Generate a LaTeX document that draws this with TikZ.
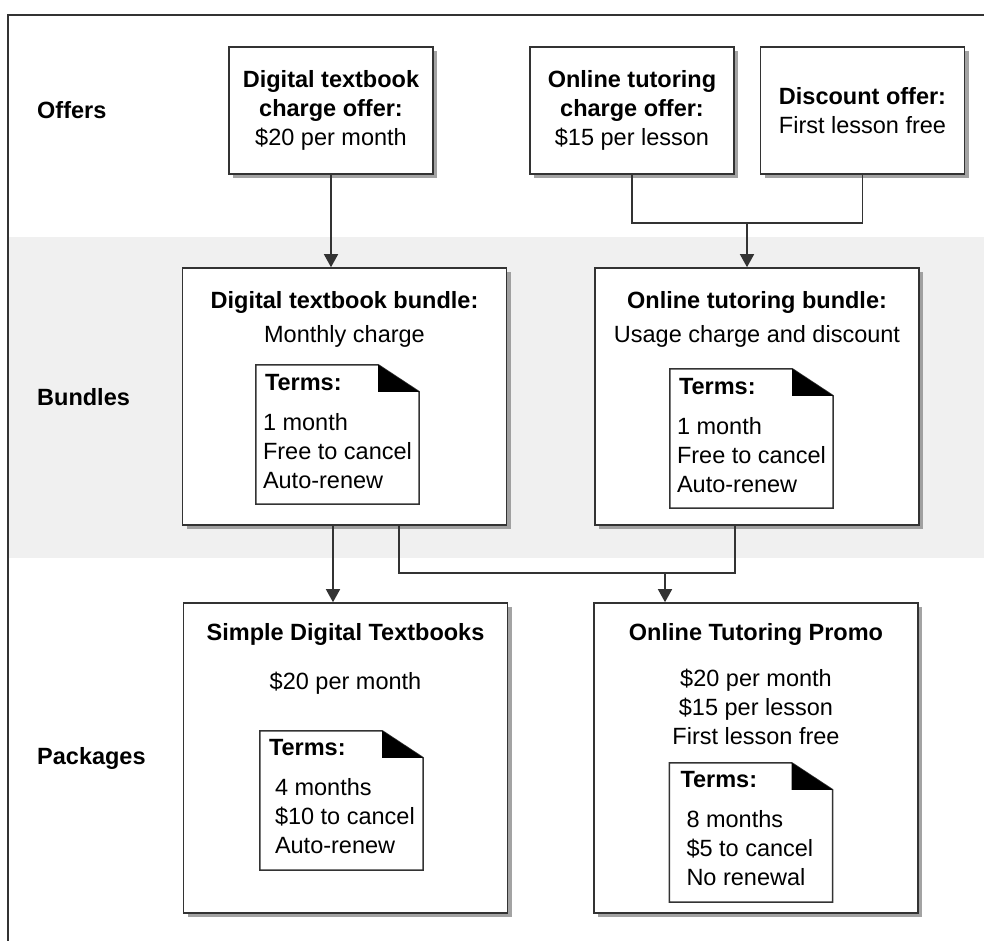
\documentclass[tikz,border=0pt]{standalone}
\usepackage{fontspec}
\setmainfont{Liberation Sans}
\usepackage{tikz}
\usetikzlibrary{positioning}
\usetikzlibrary{arrows.meta,calc,shadows}
\newcommand*{\dgfont}{\fontsize{23.5}{29}\selectfont}
\newcommand*{\termsdoc}[1]{%
  \draw[docline] (#1.north west) -- ([xshift=-41pt]#1.north east) -- ([yshift=-27pt]#1.north east) -- (#1.south east) -- (#1.south west) -- cycle;
  \fill ([xshift=-41pt]#1.north east) -- ([xshift=-41pt,yshift=-27pt]#1.north east) -- ([yshift=-27pt]#1.north east) -- cycle;}

\begin{document}
\begin{tikzpicture}[x=1pt,y=-1pt,
    every node/.style={font=\dgfont,inner sep=0pt},
    frame/.style={draw=black!80,line width=1.6pt,fill=white,
      drop shadow={shadow xshift=4pt,shadow yshift=-4pt,fill=black!45,opacity=.8}},
    offer/.style={frame,minimum width=204pt,minimum height=127pt,align=center},
    bundle/.style={frame,minimum width=324pt,minimum height=257pt},
    package/.style={frame,minimum width=324pt,minimum height=310pt},
    doc/.style={minimum width=163pt,minimum height=139pt},
    docline/.style={draw=black!80,line width=1.5pt,fill=white},
    wire/.style={draw=black!80,line width=1.5pt},
    arr/.style={wire,-{Triangle[length=13pt,width=14pt]}},
    lbl/.style={font=\dgfont\bfseries,anchor=west}]
	\useasboundingbox (0,0) rectangle (984,941);
	\fill[black!6] (9,237) rectangle (984,558);
	\draw[wire] (8,941) -- (8,15) -- (984,15);
	% row labels
	\node[lbl] (lof) at (37,110) {Offers};
	\node[lbl] (lbn) at (37,397) {Bundles};
	\node[lbl] (lpk) at (37,758) {Packages};
	% offers
	\node[offer] (ofdig) at (331,110.5) {\textbf{Digital textbook}\\\textbf{charge offer:}\\\$20 per month};
	\node[offer] (oftut) at (632,110.5) {\textbf{Online tutoring}\\\textbf{charge offer:}\\\$15 per lesson};
	\node[offer] (ofdisc) at (862.5,110.5) {\textbf{Discount offer:}\\First lesson free};
	% bundles
	\node[bundle] (bndig) at (344.5,396.5) {};
	\node[bundle] (bntut) at (757,396.5) {};
	\node (bndigt) at (344.5,302) {\textbf{Digital textbook bundle:}};
	\node (bndigs) at (344.5,336) {Monthly charge};
	\node (bntutt) at (757,302) {\textbf{Online tutoring bundle:}};
	\node (bntuts) at (757,336) {Usage charge and discount};
	\node[doc] (tdig) at (337.5,434.5) {};\termsdoc{tdig}
	\node[anchor=west] (tdigh) at ($(tdig.north west)+(9,18)$) {\textbf{Terms:}};
	\node[anchor=west,align=left] (tdigl) at ($(tdig.north west)+(7,86)$) {1 month\\Free to cancel\\Auto-renew};
	\node[doc] (ttut) at (751.5,438.5) {};\termsdoc{ttut}
	\node[anchor=west] (ttuth) at ($(ttut.north west)+(9,18)$) {\textbf{Terms:}};
	\node[anchor=west,align=left] (ttutl) at ($(ttut.north west)+(7,86)$) {1 month\\Free to cancel\\Auto-renew};
	% packages
	\node[package] (pkdig) at (345.5,758) {};
	\node[package] (pkprm) at (756,758) {};
	\node (pkdigt) at (345.5,634) {\textbf{Simple Digital Textbooks}};
	\node (pkdigs) at (345.5,683) {\$20 per month};
	\node (pkprmt) at (756,634) {\textbf{Online Tutoring Promo}};
	\node[align=center] (pkprms) at (756,706.5) {\$20 per month\\\$15 per lesson\\First lesson free};
	\node[doc] (tpkd) at (341.5,800.5) {};\termsdoc{tpkd}
	\node[anchor=west] (tpkdh) at ($(tpkd.north west)+(9,17)$) {\textbf{Terms:}};
	\node[anchor=west,align=left] (tpkdl) at ($(tpkd.north west)+(15,85)$) {4 months\\\$10 to cancel\\Auto-renew};
	\node[doc] (tprm) at (751,832.5) {};\termsdoc{tprm}
	\node[anchor=west] (tprmh) at ($(tprm.north west)+(11,17)$) {\textbf{Terms:}};
	\node[anchor=west,align=left] (tprml) at ($(tprm.north west)+(17,85)$) {8 months\\\$5 to cancel\\No renewal};
	% connectors
	\coordinate (jtop) at (747,223);
	\coordinate (jbot) at (665,573);
	\draw[arr] (ofdig.south) -- (ofdig.south |- bndig.north);
	\draw[wire] (oftut.south) |- (jtop) -| (ofdisc.south);
	\draw[arr] (jtop) -- (jtop |- bntut.north);
	\draw[arr] ([xshift=-11.5pt]bndig.south) -- ([xshift=-11.5pt]bndig.south |- pkdig.north);
	\draw[wire] ([xshift=54.5pt]bndig.south) |- (jbot) -| ([xshift=-22pt]bntut.south);
	\draw[arr] (jbot) -- (jbot |- pkprm.north);
\end{tikzpicture}
\end{document}
